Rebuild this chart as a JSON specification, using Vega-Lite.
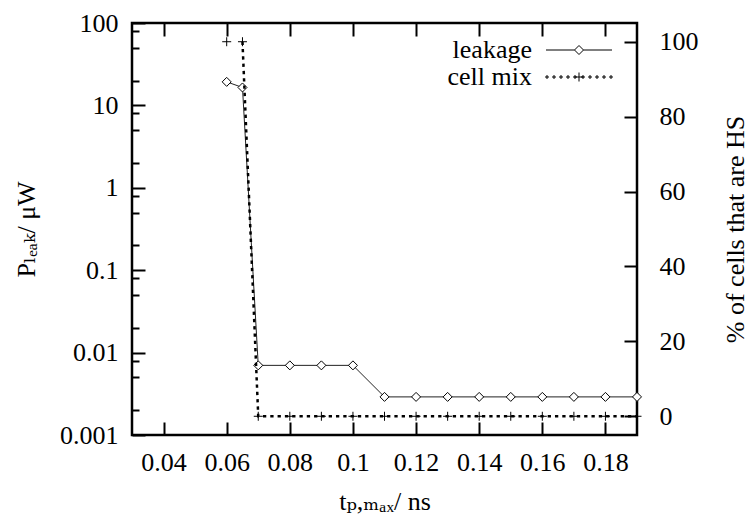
{
  "$schema": "https://vega.github.io/schema/vega-lite/v6.json",
  "width": 505,
  "height": 412,
  "autosize": "none",
  "padding": {"left": 132, "top": 23, "right": 115, "bottom": 80},
  "background": "white",
  "config": {
    "font": "'Liberation Serif', 'DejaVu Serif', serif",
    "view": {"stroke": "black", "strokeWidth": 2.5},
    "axis": {
      "domain": false,
      "grid": false,
      "tickColor": "black",
      "tickWidth": 2,
      "labelColor": "black",
      "labelFontSize": 26,
      "labelFont": "'Liberation Serif', 'DejaVu Serif', serif",
      "titleFont": "'Liberation Serif', 'DejaVu Serif', serif",
      "titleFontSize": 26,
      "titleFontWeight": "normal",
      "titleColor": "black"
    },
    "legend": {
      "labelFont": "'Liberation Serif', 'DejaVu Serif', serif",
      "labelFontSize": 26,
      "labelColor": "black"
    }
  },
  "data": {
    "values": [
      {"series": "leakage", "x": 0.06, "v": 19.3},
      {"series": "leakage", "x": 0.065, "v": 16.5},
      {"series": "leakage", "x": 0.07, "v": 0.007},
      {"series": "leakage", "x": 0.08, "v": 0.007},
      {"series": "leakage", "x": 0.09, "v": 0.007},
      {"series": "leakage", "x": 0.1, "v": 0.007},
      {"series": "leakage", "x": 0.11, "v": 0.0029},
      {"series": "leakage", "x": 0.12, "v": 0.0029},
      {"series": "leakage", "x": 0.13, "v": 0.0029},
      {"series": "leakage", "x": 0.14, "v": 0.0029},
      {"series": "leakage", "x": 0.15, "v": 0.0029},
      {"series": "leakage", "x": 0.16, "v": 0.0029},
      {"series": "leakage", "x": 0.17, "v": 0.0029},
      {"series": "leakage", "x": 0.18, "v": 0.0029},
      {"series": "leakage", "x": 0.19, "v": 0.0029},
      {"series": "cell mix", "x": 0.06, "v": 100},
      {"series": "cell mix", "x": 0.065, "v": 100},
      {"series": "cell mix", "x": 0.07, "v": 0},
      {"series": "cell mix", "x": 0.08, "v": 0},
      {"series": "cell mix", "x": 0.09, "v": 0},
      {"series": "cell mix", "x": 0.1, "v": 0},
      {"series": "cell mix", "x": 0.11, "v": 0},
      {"series": "cell mix", "x": 0.12, "v": 0},
      {"series": "cell mix", "x": 0.13, "v": 0},
      {"series": "cell mix", "x": 0.14, "v": 0},
      {"series": "cell mix", "x": 0.15, "v": 0},
      {"series": "cell mix", "x": 0.16, "v": 0},
      {"series": "cell mix", "x": 0.17, "v": 0},
      {"series": "cell mix", "x": 0.18, "v": 0},
      {"series": "cell mix", "x": 0.19, "v": 0}
    ]
  },
  "layer": [
    {
      "transform": [{"filter": "datum.series === 'leakage'"}],
      "encoding": {
        "x": {
          "field": "x", "type": "quantitative",
          "scale": {"domain": [0.03, 0.19], "nice": false, "zero": false},
          "axis": {
            "orient": "bottom",
            "values": [0.04, 0.06, 0.08, 0.1, 0.12, 0.14, 0.16, 0.18],
            "format": "~g",
            "tickSize": -13,
            "labelPadding": 27,
            "title": "tₚ,ₘₐₓ/ ns",
            "titlePadding": 13
          }
        },
        "y": {
          "field": "v", "type": "quantitative",
          "scale": {"type": "log", "domain": [0.001, 100], "nice": false},
          "axis": {
            "orient": "left",
            "values": [0.001, 0.01, 0.1, 1, 10, 100],
            "format": "~g",
            "tickSize": -13,
            "labelPadding": 27,
            "title": "Pₗₑₐₖ/ μW",
            "titlePadding": 20
          }
        }
      },
      "layer": [
        {"mark": {"type": "line", "stroke": "#222222", "strokeWidth": 1}},
        {
          "mark": {
            "type": "point",
            "shape": "M-1,0L0,-1L1,0L0,1Z",
            "size": 81,
            "filled": true,
            "fill": "white",
            "stroke": "black",
            "strokeWidth": 1,
            "opacity": 1
          }
        },
        {
          "transform": [{"filter": "datum.x < 0"}],
          "mark": {"type": "point", "filled": false, "strokeWidth": 1, "opacity": 1},
          "encoding": {
            "shape": {
              "field": "series", "type": "nominal",
              "scale": {
                "domain": ["leakage", "cell mix"],
                "range": [
                  "M-3.3,0H-0.45M0.45,0H3.3M-0.45,0L0,-0.45L0.45,0L0,0.45Z",
                  "M-3.3,-0.1h0.2v0.2h-0.2zM-2.6,-0.1h0.2v0.2h-0.2zM-1.9,-0.1h0.2v0.2h-0.2zM-1.2,-0.1h0.2v0.2h-0.2zM-0.5,-0.1h0.2v0.2h-0.2zM0.3,-0.1h0.2v0.2h-0.2zM1.0,-0.1h0.2v0.2h-0.2zM1.7,-0.1h0.2v0.2h-0.2zM2.4,-0.1h0.2v0.2h-0.2zM3.1,-0.1h0.2v0.2h-0.2zM-0.45,0H0.45M0,-0.45V0.45"
                ]
              },
              "legend": {
                "orient": "none",
                "legendX": 434,
                "legendY": 14,
                "title": null,
                "padding": 0,
                "symbolSize": 400,
                "symbolStrokeWidth": 1,
                "labelAlign": "right",
                "labelOffset": -60,
                "rowPadding": 1
              }
            },
            "stroke": {
              "field": "series", "type": "nominal",
              "scale": {"domain": ["leakage", "cell mix"], "range": ["black", "black"]},
              "legend": {
                "orient": "none",
                "legendX": 434,
                "legendY": 14,
                "title": null,
                "padding": 0,
                "symbolSize": 400,
                "symbolStrokeWidth": 1,
                "labelAlign": "right",
                "labelOffset": -60,
                "rowPadding": 1
              }
            }
          }
        }
      ]
    },
    {
      "transform": [{"filter": "datum.series === 'cell mix'"}],
      "encoding": {
        "x": {
          "field": "x", "type": "quantitative",
          "scale": {"domain": [0.03, 0.19], "nice": false, "zero": false},
          "axis": {
            "orient": "top",
            "values": [0.04, 0.06, 0.08, 0.1, 0.12, 0.14, 0.16, 0.18],
            "labels": false,
            "tickSize": -13,
            "title": null
          }
        },
        "y": {
          "field": "v", "type": "quantitative",
          "scale": {"domain": [-5, 105], "nice": false, "zero": false},
          "axis": {
            "orient": "right",
            "values": [0, 20, 40, 60, 80, 100],
            "tickSize": -13,
            "labelPadding": 35,
            "title": "% of cells that are HS",
            "titleAngle": 270,
            "titlePadding": 50
          }
        }
      },
      "layer": [
        {
          "transform": [{"filter": "datum.x >= 0.065"}],
          "mark": {"type": "line", "stroke": "black", "strokeWidth": 2.5, "strokeDash": [3.3, 4]}
        },
        {
          "mark": {
            "type": "point",
            "shape": "M-1,0H1M0,-1V1",
            "size": 81,
            "filled": false,
            "stroke": "black",
            "strokeWidth": 1,
            "opacity": 1
          }
        }
      ]
    },
    {
      "transform": [{"filter": "datum.series === 'leakage'"}],
      "mark": {"type": "point", "opacity": 0},
      "encoding": {
        "x": {
          "field": "x", "type": "quantitative",
          "scale": {"domain": [0.03, 0.19], "nice": false, "zero": false},
          "axis": null
        },
        "y": {
          "field": "v", "type": "quantitative",
          "scale": {"type": "log", "domain": [0.001, 100], "nice": false},
          "axis": {
            "orient": "left",
            "values": [0.002, 0.005, 0.008, 0.02, 0.05, 0.08, 0.2, 0.5, 0.8, 2, 5, 8, 20, 50, 80],
            "labels": false,
            "tickSize": -7,
            "title": null
          }
        }
      }
    }
  ],
  "resolve": {"scale": {"x": "independent", "y": "independent", "shape": "independent", "stroke": "independent"}}
}
